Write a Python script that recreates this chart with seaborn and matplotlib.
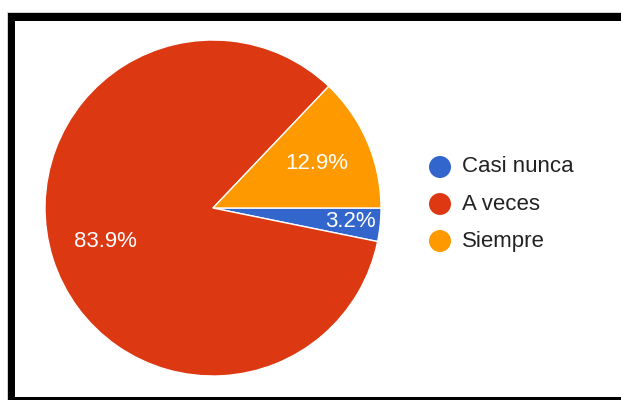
import numpy as np
import matplotlib
matplotlib.use("Agg")
import matplotlib.pyplot as plt
from matplotlib.patches import Rectangle
import seaborn as sns

categories = ["Casi nunca", "A veces", "Siempre"]
values = [3.2, 83.9, 12.9]
colors = ["#3366CC", "#DC3912", "#FF9900"]
label_dist = [0.82, 0.67, 0.67]

sns.set_theme(style="white")
plt.rcParams["font.family"] = ["Liberation Sans", "DejaVu Sans"]

W, H = 621, 400
fig = plt.figure(figsize=(W / 100, H / 100), dpi=100)
ax = fig.add_axes([0, 0, 1, 1])
ax.set_xlim(0, W)
ax.set_ylim(0, H)
ax.set_aspect("equal")
ax.axis("off")

# thick black frame, open on the right and bottom edges
ax.add_patch(Rectangle((7, -10), W + 20, H - 12 + 10 + 0.5, facecolor="#d0d0d0", edgecolor="none", zorder=0))
ax.add_patch(Rectangle((7.5, -10), W + 20, H - 12.8 + 10, facecolor="black", edgecolor="none", zorder=0))
ax.add_patch(Rectangle((15.3, H - 396.7), W + 20, 396.7 - 20.7, facecolor="white", edgecolor="none", zorder=0))

cx, cy, r = 213, H - 208, 168
wedges, _ = ax.pie(values, colors=colors, startangle=0, counterclock=False,
                   center=(cx, cy), radius=r, frame=True,
                   wedgeprops=dict(edgecolor="white", linewidth=1))
ax.set_xlim(0, W)
ax.set_ylim(0, H)
ax.axis("off")

total = sum(values)
start = 0.0
for v, d in zip(values, label_dist):
    sweep = 360 * v / total
    mid = np.deg2rad(start - sweep / 2)
    start -= sweep
    ax.text(cx + d * r * np.cos(mid), cy + d * r * np.sin(mid), f"{v:.1f}%",
            ha="center", va="center", color="white", fontsize=16, zorder=5)

# legend
for i, (cat, col) in enumerate(zip(categories, colors)):
    y = H - (167 + 37 * i)
    ax.scatter([440], [y], s=(22 / 1.389) ** 2, color=col, edgecolors="none", zorder=5)
    ax.text(462, y, cat, ha="left", va="center", color="#222222", fontsize=16, zorder=5)

fig.savefig("out.png", dpi=100)
